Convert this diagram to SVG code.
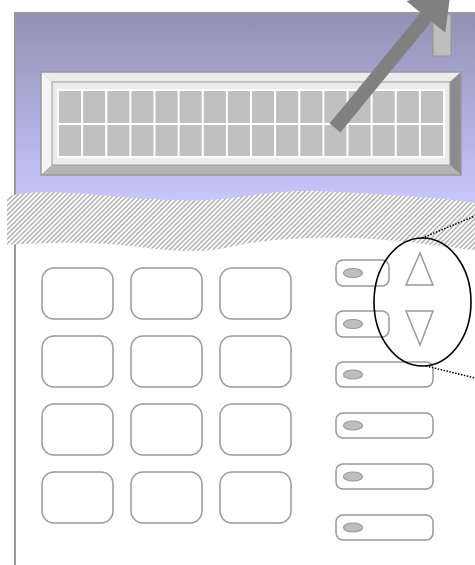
<svg xmlns="http://www.w3.org/2000/svg" width="475" height="565" viewBox="0 0 475 565">
<defs>
<linearGradient id="panelGrad" x1="0" y1="0" x2="0" y2="1">
<stop offset="0" stop-color="#9191B6"/>
<stop offset="1" stop-color="#C8C8FD"/>
</linearGradient>
<pattern id="hatch" patternUnits="userSpaceOnUse" width="3.4" height="3.4" patternTransform="rotate(45)">
<rect width="3.4" height="3.4" fill="#FFFFFF"/>
<rect width="1.5" height="3.4" fill="#B2B2B2"/>
</pattern>
</defs>
<style>
.key{fill:#FFFFFF;stroke:#999999;stroke-width:1.5}
.led{fill:#BEBEBE;stroke:#999999;stroke-width:1.2}
.tri{fill:#FFFFFF;stroke:#999999;stroke-width:1.5}
.cell{fill:#C0C0C0}
.dot{fill:none;stroke:#000000;stroke-width:1.5;stroke-dasharray:1.5,1.5}
</style>
<rect width="475" height="565" fill="#FFFFFF"/>
<g id="panel">
<rect x="15" y="13" width="470" height="192" fill="url(#panelGrad)"/>
<line x1="15" y1="13" x2="475" y2="13" stroke="#999999" stroke-width="2"/>
<line x1="15" y1="12" x2="15" y2="565" stroke="#999999" stroke-width="2"/>
</g>
<g id="lcd">
<polygon points="41,72 461,72 450,82 52,82" fill="#EBEBEB"/>
<polygon points="41,72 52,82 52,165 41,175" fill="#F4F4F4"/>
<polygon points="461,72 461,175 450,165 450,82" fill="#8C8C8C"/>
<polygon points="41,175 461,175 450,165 52,165" fill="#B4B4B4"/>
<rect x="41" y="72" width="420" height="103" fill="none" stroke="#999999" stroke-width="1.5"/>
<rect x="52" y="82" width="398" height="83" fill="#EBEBEB" stroke="#999999" stroke-width="1"/>
<rect x="57" y="89" width="388" height="69" fill="#FFFFFF"/>
<g id="cells">
<rect class="cell" x="59" y="91" width="22.1" height="32"/><rect class="cell" x="83.1" y="91" width="22.1" height="32"/><rect class="cell" x="107.3" y="91" width="22.1" height="32"/><rect class="cell" x="131.4" y="91" width="22.1" height="32"/><rect class="cell" x="155.5" y="91" width="22.1" height="32"/><rect class="cell" x="179.6" y="91" width="22.1" height="32"/><rect class="cell" x="203.8" y="91" width="22.1" height="32"/><rect class="cell" x="227.9" y="91" width="22.1" height="32"/><rect class="cell" x="252" y="91" width="22.1" height="32"/><rect class="cell" x="276.1" y="91" width="22.1" height="32"/><rect class="cell" x="300.3" y="91" width="22.1" height="32"/><rect class="cell" x="324.4" y="91" width="22.1" height="32"/><rect class="cell" x="348.5" y="91" width="22.1" height="32"/><rect class="cell" x="372.6" y="91" width="22.1" height="32"/><rect class="cell" x="396.8" y="91" width="22.1" height="32"/><rect class="cell" x="420.9" y="91" width="22.1" height="32"/>
<rect class="cell" x="59" y="125" width="22.1" height="31"/><rect class="cell" x="83.1" y="125" width="22.1" height="31"/><rect class="cell" x="107.3" y="125" width="22.1" height="31"/><rect class="cell" x="131.4" y="125" width="22.1" height="31"/><rect class="cell" x="155.5" y="125" width="22.1" height="31"/><rect class="cell" x="179.6" y="125" width="22.1" height="31"/><rect class="cell" x="203.8" y="125" width="22.1" height="31"/><rect class="cell" x="227.9" y="125" width="22.1" height="31"/><rect class="cell" x="252" y="125" width="22.1" height="31"/><rect class="cell" x="276.1" y="125" width="22.1" height="31"/><rect class="cell" x="300.3" y="125" width="22.1" height="31"/><rect class="cell" x="324.4" y="125" width="22.1" height="31"/><rect class="cell" x="348.5" y="125" width="22.1" height="31"/><rect class="cell" x="372.6" y="125" width="22.1" height="31"/><rect class="cell" x="396.8" y="125" width="22.1" height="31"/><rect class="cell" x="420.9" y="125" width="22.1" height="31"/>
</g>
</g>
<g id="contrast">
<rect x="433" y="14" width="18" height="42" fill="#BEBEBE" stroke="#999999" stroke-width="1.2"/>
</g>
<g id="arrow">
<polygon points="329.6,123.6 420.6,12.7 406.7,1.2 451.3,-13.8 445.3,32.8 431.4,21.4 340.4,132.4" fill="#808080"/>
</g>
<g id="break">
<path d="M7,197 C30,190 60,192 110,196 S200,203 240,197 S300,190 335,192 S430,196 475,203 L475,250 C440,247 400,239 350,238 S260,240 230,247 S170,251 130,246 S40,243 7,245 Z" fill="url(#hatch)"/>
</g>
<g id="keypad">
<rect class="key" x="42" y="268" width="71" height="51" rx="12"/>
<rect class="key" x="131" y="268" width="71" height="51" rx="12"/>
<rect class="key" x="220" y="268" width="71" height="51" rx="12"/>
<rect class="key" x="42" y="336" width="71" height="51" rx="12"/>
<rect class="key" x="131" y="336" width="71" height="51" rx="12"/>
<rect class="key" x="220" y="336" width="71" height="51" rx="12"/>
<rect class="key" x="42" y="404" width="71" height="51" rx="12"/>
<rect class="key" x="131" y="404" width="71" height="51" rx="12"/>
<rect class="key" x="220" y="404" width="71" height="51" rx="12"/>
<rect class="key" x="42" y="472" width="71" height="51" rx="12"/>
<rect class="key" x="131" y="472" width="71" height="51" rx="12"/>
<rect class="key" x="220" y="472" width="71" height="51" rx="12"/>
</g>
<g id="softkeys">
<rect class="key" x="336" y="260" width="53" height="26" rx="7"/>
<rect class="key" x="336" y="311" width="53" height="26" rx="7"/>
<rect class="key" x="336" y="362" width="97" height="25" rx="7"/>
<rect class="key" x="336" y="413" width="97" height="25" rx="7"/>
<rect class="key" x="336" y="464" width="97" height="25" rx="7"/>
<rect class="key" x="336" y="515" width="97" height="25" rx="7"/>
<ellipse class="led" cx="353" cy="273" rx="9.5" ry="4.5"/>
<ellipse class="led" cx="353" cy="324" rx="9.5" ry="4.5"/>
<ellipse class="led" cx="353" cy="374.5" rx="9.5" ry="4.5"/>
<ellipse class="led" cx="353" cy="425.5" rx="9.5" ry="4.5"/>
<ellipse class="led" cx="353" cy="476.5" rx="9.5" ry="4.5"/>
<ellipse class="led" cx="353" cy="527.5" rx="9.5" ry="4.5"/>
</g>
<g id="arrows-keys">
<polygon class="tri" points="420,253 433,285 406,285"/>
<polygon class="tri" points="406,311 433,311 420,345"/>
</g>
<g id="highlight">
<ellipse cx="422.5" cy="302" rx="48.5" ry="64" fill="none" stroke="#000000" stroke-width="1.6"/>
</g>
<g id="connectors">
<line class="dot" x1="422" y1="238" x2="475" y2="216"/>
<line class="dot" x1="426" y1="366" x2="475" y2="378"/>
</g>
</svg>
